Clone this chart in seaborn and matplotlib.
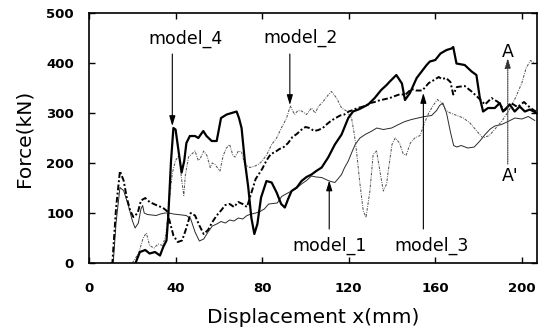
import numpy as np
import pandas as pd
import seaborn as sns
import matplotlib.pyplot as plt

# values (displacement mm, force kN)
m4_x = [21.5, 23.5, 26, 28, 30.5, 32.8, 34.3, 35.8, 36.6, 37.9, 39, 40, 41.6, 42.8, 44, 45, 46.6, 49, 50.5,
        52.8, 54.3, 56.7, 59, 61, 63.6, 65.9, 68.2, 69.3, 70.5, 72, 73.6, 75, 76.4, 77.8, 79.5, 82, 84.4,
        86.7, 88.8, 90.5, 92, 93.6, 96, 98.2, 100.5, 102.8, 105, 107.5, 110.5, 113.6, 116.7, 119.8, 122,
        125, 129, 132, 135, 137.5, 139, 142, 144.6, 146, 148.3, 151.4, 153.7, 156, 157.5, 160, 162.4,
        165.2, 167.5, 168.3, 169.8, 173.6, 176.8, 179, 180.6, 182.1, 184.4, 187.5, 189.8, 191.3, 192.9,
        194.4, 196.7, 199, 201.4, 203.7, 206.8]
m4_y = [0, 22, 26, 19, 22, 15, 32, 45, 91, 204, 270, 267, 217, 181, 204, 240, 254, 254, 250,
        264, 254, 244, 244, 290, 297, 300, 303, 290, 270, 204, 151, 91, 58, 78, 131, 164, 161,
        141, 118, 111, 128, 144, 151, 164, 172, 177, 184, 191, 211, 237, 257, 290, 303,
        308, 317, 330, 346, 356, 363, 376, 359, 326, 340, 370, 383, 396, 403, 406, 419,
        426, 429, 432, 399, 396, 383, 376, 330, 303, 310, 310, 320, 303, 310,
        317, 303, 313, 303, 307, 300]

m1_x = [10, 11.2, 12.5, 14.3, 16, 18.2, 20, 21.3, 22.8, 24, 24.8, 25.5, 27, 29, 31, 33, 35, 37, 39, 41,
        43, 45, 47, 49, 51, 53, 55, 57, 59, 61, 63, 65, 67, 69, 71, 73, 75, 77, 79, 81, 83, 85, 87, 89,
        91, 93.6, 96, 98.2, 100.5, 102.8, 105, 107.5, 109, 111, 113.6, 115, 116.7, 118, 119.8, 121.5,
        123, 125.2, 127.6, 130.3, 133, 136, 139.8, 143, 146, 149, 152, 155, 158.3, 160.6, 162, 163.5,
        165.2, 167, 168.5, 170, 172, 175, 178, 180.6, 183, 185.4, 187.5, 190.6, 193.6, 196.8, 200,
        203, 206]
m1_y = [0, 0, 80, 151, 145, 115, 85, 70, 80, 108, 115, 100, 97, 96, 95, 98, 100, 100, 98, 97,
        96, 95, 88, 62, 44, 48, 62, 74, 78, 83, 80, 86, 84, 90, 88, 95, 98, 100, 103, 108, 118, 119, 120, 133,
        138, 144, 150, 158, 165, 174, 172, 171, 168, 164, 161, 168, 177, 190, 204, 222,
        237, 250, 257, 263, 270, 267, 270, 277, 283, 287, 290, 293, 295, 305, 315, 320,
        300, 262, 235, 232, 235, 230, 232, 244, 257, 268, 274, 277, 283, 290, 288,
        293, 285]

m2_x = [20, 23, 25, 26.5, 28, 30, 32, 34, 35.5, 37, 38.5, 40, 41.5, 43, 43.8, 44.5, 46, 47.5, 49, 50.5,
        51.5, 53, 54.5, 56, 57, 58.2, 60.5, 62, 63.5, 65, 66.5, 67.5, 69, 70.5, 72, 74.4, 76.7, 78.5, 80,
        82.2, 84.4, 86.7, 89, 91.3, 93, 95, 96.5, 98.2, 100.5, 102.8, 104.5, 106, 108.2, 110.5, 112,
        113.5, 114.4, 116.7, 119, 121.3, 122.5, 123.6, 125.2, 126.7, 128, 129.8, 131.3, 132.9, 134.4,
        136, 137.5, 138.5, 140, 141.5, 143.5, 145, 146.5, 148.5, 150.5, 153, 155, 157, 159, 161, 163,
        165, 167, 170, 173, 176, 179, 182, 185, 188, 191, 194, 197, 200, 202, 204, 206]
m2_y = [0, 20, 50, 60, 35, 30, 38, 35, 55, 120, 180, 205, 215, 160, 135, 175, 212, 218, 224, 205,
        210, 224, 215, 191, 200, 197, 184, 215, 230, 237, 215, 212, 224, 222, 197, 191, 194, 198, 204,
        217, 237, 250, 271, 290, 314, 297, 305, 304, 297, 310, 300, 313, 323, 336, 343,
        335, 330, 310, 304, 290, 260, 224, 158, 105, 91, 144, 217, 224, 184,
        144, 158, 191, 237, 250, 240, 220, 215, 240, 250, 255, 280, 300, 315, 327, 320,
        305, 300, 295, 290, 280, 265, 250, 255, 270, 285, 305, 330, 360, 390, 405, 400]

m3_x = [10, 10.8, 12.5, 14.3, 16, 17.5, 19, 20.5, 22.5, 24, 26, 28, 30, 32, 34, 36, 37.5, 39, 41, 43,
        45, 47, 49, 51, 53, 55, 57, 59, 61, 63, 65, 67, 69, 71, 73, 75, 77, 80, 82, 84, 86, 88, 90, 92,
        94, 96, 98, 100, 102, 104, 106, 108, 110, 112, 114, 116, 118, 120, 122, 124, 126, 128, 130,
        132, 134, 136, 139, 142, 144, 146, 149, 151, 154, 157, 159, 161.6, 163, 165, 167, 168.3, 170,
        173.6, 176.8, 180, 183, 186, 189, 192, 195, 198, 201, 204, 206.5]
m3_y = [0, 0, 110, 184, 165, 130, 105, 92, 100, 125, 130, 122, 118, 114, 111, 104, 80, 55, 42, 45,
        70, 100, 95, 75, 58, 66, 82, 95, 105, 116, 118, 112, 122, 118, 112, 140, 168, 188, 205, 218, 222, 228, 232, 240,
        252, 258, 266, 272, 270, 264, 266, 270, 278, 285, 290, 295, 297, 303, 306, 310, 312, 315, 320,
        322, 325, 327, 330, 335, 338, 336, 348, 345, 345, 360, 365, 372, 368, 370, 362, 337, 352,
        354, 343, 330, 317, 330, 322, 305, 320, 312, 322, 310, 303]

x_ticks = [0, 40, 80, 120, 160, 200]
y_ticks = [0, 100, 200, 300, 400, 500]

sns.set_theme(style="ticks")
plt.rcParams['font.family'] = ['DejaVu Sans']
plt.rcParams['text.color'] = 'black'
plt.rcParams['axes.labelcolor'] = 'black'

fig = plt.figure(figsize=(5.47, 3.32), dpi=100)
ax = fig.add_axes([0.1627, 0.2078, 0.819, 0.753])

sns.lineplot(x=m1_x, y=m1_y, ax=ax, color="#2a2a2a", linewidth=0.7, estimator=None, sort=False)
sns.lineplot(x=m2_x, y=m2_y, ax=ax, color="#555555", linewidth=0.75, linestyle=(0, (2.5, 1.2, 0.8, 1.2)),
             estimator=None, sort=False)
sns.lineplot(x=m3_x, y=m3_y, ax=ax, color="black", linewidth=1.4, linestyle=(0, (3, 1.2, 1, 1.2)),
             estimator=None, sort=False)
sns.lineplot(x=m4_x, y=m4_y, ax=ax, color="black", linewidth=1.6, estimator=None, sort=False)

ax.set_xlim(0, 207)
ax.set_ylim(0, 500)
ax.set_xticks(x_ticks)
ax.set_yticks(y_ticks)
ax.tick_params(direction="in", top=True, right=True, length=4, width=1, colors="black", labelsize=9.5)
ax.tick_params(axis="x", pad=14)
ax.tick_params(axis="y", pad=11)
for lab in ax.get_xticklabels() + ax.get_yticklabels():
    lab.set_fontweight("bold")
for sp in ax.spines.values():
    sp.set_color("black")
    sp.set_linewidth(1.2)

ax.set_xlabel("Displacement x(mm)", fontsize=14.5, labelpad=9)
ax.set_ylabel("Force(kN)", fontsize=14.5, labelpad=9)

arrow = dict(arrowstyle="-|>,head_length=0.5,head_width=0.15", color="black", lw=0.8, shrinkA=0, shrinkB=0)
ax.annotate("", xy=(38.5, 274), xytext=(38.5, 418), arrowprops=arrow)
ax.text(44.5, 449, "model_4", ha="center", va="center", fontsize=12.5)
ax.annotate("", xy=(92.8, 316), xytext=(92.8, 418), arrowprops=arrow)
ax.text(97.7, 450, "model_2", ha="center", va="center", fontsize=12.5)
ax.annotate("", xy=(111, 165), xytext=(111, 68), arrowprops=arrow)
ax.text(111.3, 35, "model_1", ha="center", va="center", fontsize=12.5)
ax.annotate("", xy=(154.5, 340), xytext=(154.5, 68), arrowprops=arrow)
ax.text(158.5, 35, "model_3", ha="center", va="center", fontsize=12.5)

dotted = dict(arrowstyle="-|>,head_length=0.5,head_width=0.15", color="#333333", lw=0.8,
              linestyle=(0, (1, 1)), shrinkA=0, shrinkB=0)
ax.annotate("", xy=(193.5, 410), xytext=(193.5, 198), arrowprops=dotted)
ax.text(193.5, 422, "A", ha="center", va="center", fontsize=12.5)
ax.text(194.5, 174, "A'", ha="center", va="center", fontsize=12.5)

fig.savefig("out.png", dpi=100)
